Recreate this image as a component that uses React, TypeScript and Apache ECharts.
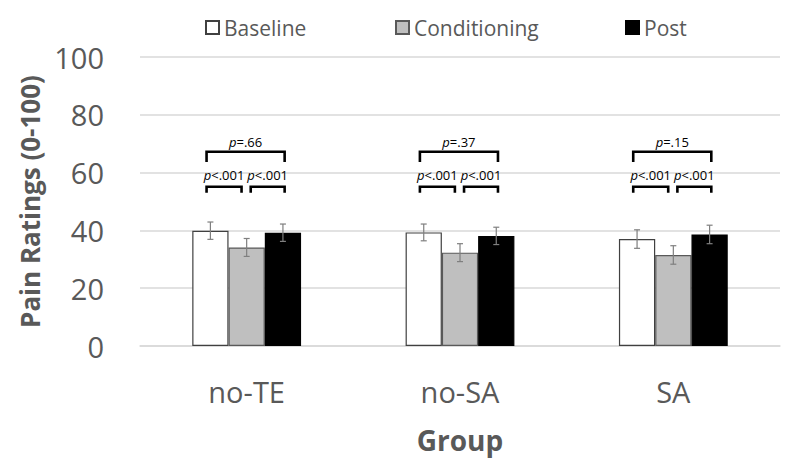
import React, { useEffect, useRef } from "react";
import * as echarts from "echarts";

const categories = ["no-TE", "no-SA", "SA"];
const seriesNames = ["Baseline", "Conditioning", "Post"];
const baseline = [39.9, 39.3, 37.0];
const conditioning = [34.1, 32.3, 31.5];
const post = [39.2, 38.1, 38.6];
const baselineErr = [3.0, 2.9, 3.2];
const conditioningErr = [3.1, 3.1, 3.2];
const postErr = [3.0, 3.0, 3.2];
const pOverall = ["=.66", "=.37", "=.15"];
const pBaseCond = ["<.001", "<.001", "<.001"];
const pCondPost = ["<.001", "<.001", "<.001"];
const yTicks = [0, 20, 40, 60, 80, 100];

const FONT = "'Open Sans', 'Noto Sans', sans-serif";
const BAR_FRAC = 0.17;
// bracket levels (data units)
const TOP_LEVEL = 67.2;
const TOP_LEG = 63.7;
const LOW_LEVEL = 55.1;
const LOW_LEG = 53.0;

const allValues = [baseline, conditioning, post];
const allErrs = [baselineErr, conditioningErr, postErr];
const fills = ["#ffffff", "#bfbfbf", "#000000"];
const borders = ["#404040", "#595959", "#000000"];

export default function App() {
  const ref = useRef<HTMLDivElement>(null);
  useEffect(() => {
    if (!ref.current) return;
    const chart = echarts.init(ref.current, null, { renderer: "svg" });

    const barSeries = seriesNames.map((name, s) => ({
      type: "bar",
      name,
      data: allValues[s],
      barWidth: BAR_FRAC * 100 + "%",
      barGap: "0%",
      itemStyle: { color: fills[s], borderColor: borders[s], borderWidth: 1.2 },
      silent: true,
      z: 2,
    }));

    const errSeries = seriesNames.map((name, s) => ({
      type: "custom",
      name: name + "-err",
      data: categories.map((_, i) => [i, allValues[s][i], allErrs[s][i]]),
      encode: { x: 0, y: 1 },
      silent: true,
      z: 5,
      renderItem: (params: any, api: any) => {
        const idx = api.value(0);
        const v = api.value(1);
        const e = api.value(2);
        const band = api.size([1, 0])[0];
        const top = api.coord([idx, v + e]);
        const bot = api.coord([idx, v - e]);
        const x = top[0] + (s - 1) * BAR_FRAC * band;
        const cap = 3;
        const st = { stroke: "#7f7f7f", lineWidth: 1.2 };
        return {
          type: "group",
          children: [
            { type: "line", shape: { x1: x, y1: top[1], x2: x, y2: bot[1] }, style: st },
            { type: "line", shape: { x1: x - cap, y1: top[1], x2: x + cap, y2: top[1] }, style: st },
            { type: "line", shape: { x1: x - cap, y1: bot[1], x2: x + cap, y2: bot[1] }, style: st },
          ],
        };
      },
    }));

    const bracketSeries = {
      type: "custom",
      name: "brackets",
      data: categories.map((_, i) => [i, TOP_LEVEL]),
      encode: { x: 0, y: 1 },
      silent: true,
      z: 6,
      renderItem: (params: any, api: any) => {
        const idx = api.value(0);
        const band = api.size([1, 0])[0];
        const c = api.coord([idx, 0])[0];
        const yTop = api.coord([idx, TOP_LEVEL])[1];
        const yTopLeg = api.coord([idx, TOP_LEG])[1];
        const yLow = api.coord([idx, LOW_LEVEL])[1];
        const yLowLeg = api.coord([idx, LOW_LEG])[1];
        const st = { stroke: "#000", lineWidth: 2.6, fill: null, lineJoin: "miter" };
        const br = (a: number, b: number, y: number, yl: number) => ({
          type: "polyline",
          shape: { points: [[c + a * band, yl], [c + a * band, y], [c + b * band, y], [c + b * band, yl]] },
          style: st,
        });
        const txt = (text: string, x: number, y: number) => ({
          type: "text",
          style: {
            text: "{i|p}{n|" + text + "}",
            x,
            y,
            align: "center",
            verticalAlign: "bottom",
            rich: {
              i: { fontStyle: "italic", fontSize: 13, fontFamily: FONT, fill: "#000" },
              n: { fontSize: 13, fontFamily: FONT, fill: "#000" },
            },
          },
        });
        const a1 = -0.188, b1 = 0.178, a2 = -0.024, b2 = 0.019;
        return {
          type: "group",
          children: [
            br(a1, b1, yTop, yTopLeg),
            br(a1, a2, yLow, yLowLeg),
            br(b2, b1, yLow, yLowLeg),
            txt(pOverall[idx], c + ((a1 + b1) / 2) * band, yTop - 3),
            txt(pBaseCond[idx], c + ((a1 + a2) / 2) * band, yLow - 5),
            txt(pCondPost[idx], c + ((b2 + b1) / 2) * band, yLow - 5),
          ],
        };
      },
    };

    const legendLefts = [200, 390, 620];
    const option: any = {
      animation: false,
      textStyle: { fontFamily: FONT },
      legend: seriesNames.map((n, i) => ({
        data: [n],
        left: legendLefts[i],
        top: 12,
        icon: "rect",
        itemWidth: 13,
        itemHeight: 13,
        itemGap: 6,
        textStyle: { fontSize: 21, color: "#595959", fontFamily: FONT },
        selectedMode: false,
      })),
      grid: { left: 140, right: 20, top: 57, bottom: 122, containLabel: false },
      xAxis: {
        type: "category",
        data: categories,
        axisLine: { show: true, lineStyle: { color: "#d9d9d9", width: 1.5 } },
        axisTick: { show: false },
        axisLabel: { fontSize: 29, color: "#595959", margin: 31, fontFamily: FONT },
        name: "Group",
        nameLocation: "middle",
        nameGap: 80,
        nameTextStyle: { fontSize: 28, fontWeight: "bold", color: "#595959", fontFamily: FONT },
      },
      yAxis: {
        type: "value",
        min: yTicks[0],
        max: yTicks[yTicks.length - 1],
        interval: yTicks[1] - yTicks[0],
        axisLine: { show: false },
        axisTick: { show: false },
        splitLine: { lineStyle: { color: "#d9d9d9", width: 1.5 } },
        axisLabel: { fontSize: 29, color: "#595959", margin: 36, fontFamily: FONT },
        name: "Pain Ratings (0-100)",
        nameLocation: "middle",
        nameGap: 94,
        nameTextStyle: { fontSize: 26, fontWeight: "bold", color: "#595959", fontFamily: FONT },
      },
      series: [...barSeries, ...errSeries, bracketSeries],
    };
    chart.setOption(option);
    return () => chart.dispose();
  }, []);
  return <div ref={ref} style={{ width: 800, height: 468, margin: -8 }} />;
}
